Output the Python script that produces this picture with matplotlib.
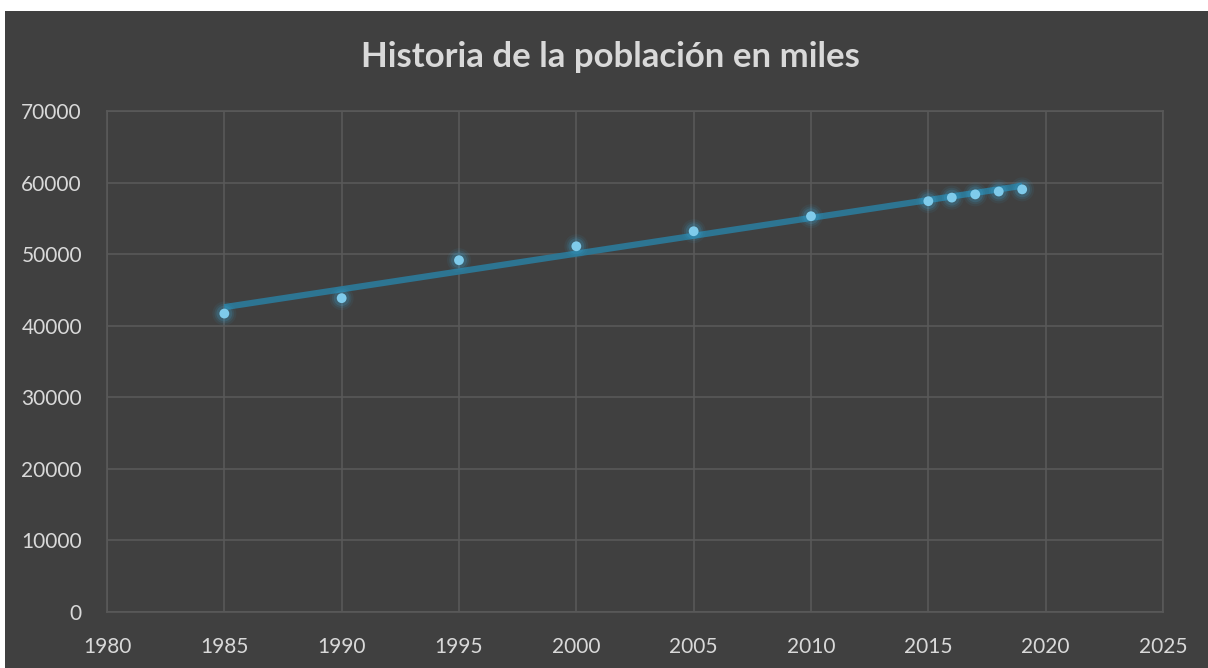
import numpy as np
import matplotlib.pyplot as plt
from matplotlib.patches import Rectangle

years = [1985, 1990, 1995, 2000, 2005, 2010, 2015, 2016, 2017, 2018, 2019]
poblacion = [41700, 43850, 49150, 51100, 53200, 55300, 57400, 57900, 58350, 58750, 59050]

x_ticks = [1980, 1985, 1990, 1995, 2000, 2005, 2010, 2015, 2020, 2025]
y_ticks = [0, 10000, 20000, 30000, 40000, 50000, 60000, 70000]

BG = "#404040"
GRID = "#595959"
TEXT = "#d9d9d9"

plt.rcParams["font.family"] = ["Lato", "DejaVu Sans"]

W, H = 1208, 668
fig = plt.figure(figsize=(W / 100, H / 100), dpi=100, facecolor=BG)
# margen blanco arriba y a la izquierda
fig.patches.append(Rectangle((0, 0), 5 / W, 1, transform=fig.transFigure,
                             facecolor="white", edgecolor="none"))
fig.patches.append(Rectangle((0, 1 - 11 / H), 1, 11 / H, transform=fig.transFigure,
                             facecolor="white", edgecolor="none"))

ax = fig.add_axes([107 / W, 56 / H, (1163 - 107) / W, (612 - 111) / H])
ax.set_facecolor(BG)

# linea de tendencia lineal
coef = np.polyfit(years, poblacion, 1)
tx = np.array([years[0], years[-1]])
ax.plot(tx, np.polyval(coef, tx), color="#2d7592", linewidth=4.5,
        solid_capstyle="butt", zorder=3)

# puntos con efecto "glow"
for s, a in [(300, 0.07), (200, 0.11), (130, 0.18)]:
    ax.scatter(years, poblacion, s=s, color="#3aa6d6", alpha=a,
               edgecolors="none", zorder=4)
ax.scatter(years, poblacion, s=50, color="#7fcbeb", edgecolors="none", zorder=5)

ax.set_xlim(1980, 2025)
ax.set_ylim(0, 70000)
ax.set_xticks(x_ticks)
ax.set_yticks(y_ticks)
ax.grid(True, color=GRID, linewidth=1.2)
ax.set_axisbelow(True)
for sp in ax.spines.values():
    sp.set_color(GRID)
    sp.set_linewidth(1.2)
ax.tick_params(length=0, colors=TEXT, labelsize=15)
ax.tick_params(axis="x", pad=18)
ax.tick_params(axis="y", pad=18)

fig.text(610 / W, 1 - 57 / H, "Historia de la población en miles",
         ha="center", va="center", color=TEXT, fontsize=25, fontweight="bold")

fig.savefig("out.png", dpi=100, facecolor=BG)
